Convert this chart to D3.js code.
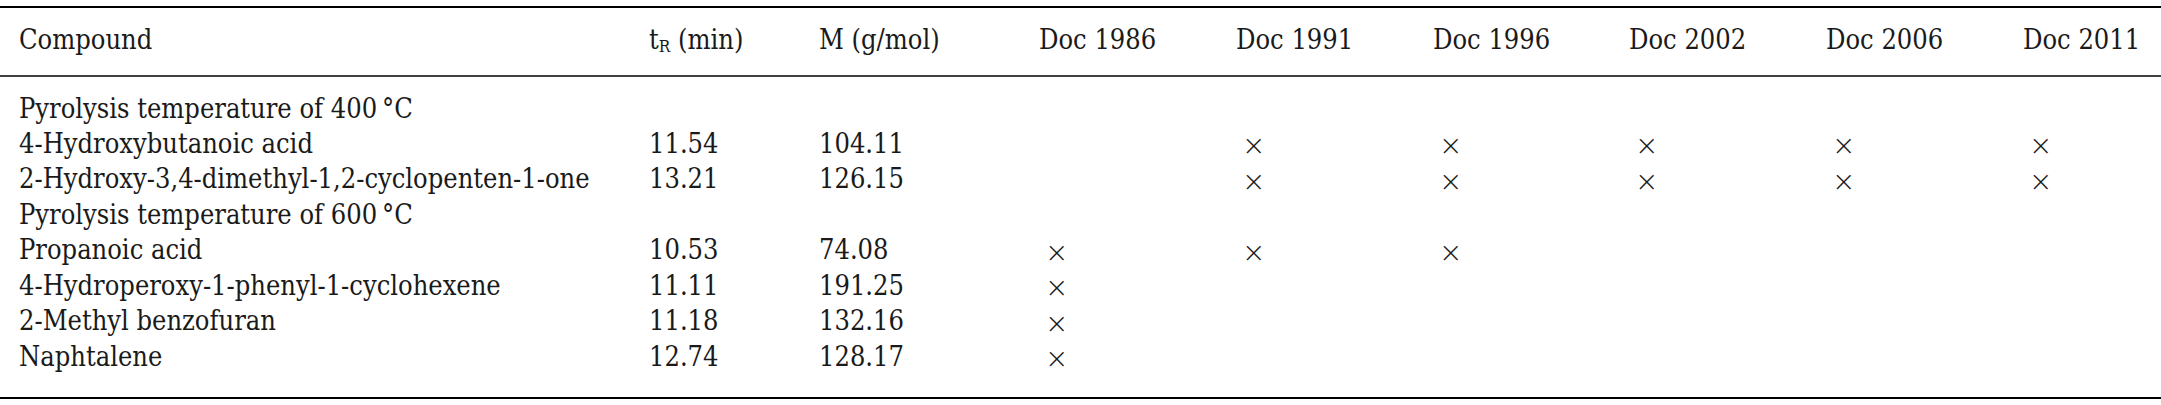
<!DOCTYPE html><html><head><meta charset="utf-8">
<script src="https://cdn.jsdelivr.net/npm/d3@7"></script>
<style>body{margin:0;background:#fff}text{font-family:"DejaVu Serif Condensed","DejaVu Serif",serif;font-size:27px;fill:#1a1a1a}</style></head><body>
<script>
const columns=["Compound","tR","M (g/mol)","Doc 1986","Doc 1991","Doc 1996","Doc 2002","Doc 2006","Doc 2011"];
const colX=[19,649,819,1039,1236,1433,1629,1826,2023];
const compounds=["Pyrolysis temperature of 400\u2009°C","4-Hydroxybutanoic acid","2-Hydroxy-3,4-dimethyl-1,2-cyclopenten-1-one","Pyrolysis temperature of 600\u2009°C","Propanoic acid","4-Hydroperoxy-1-phenyl-1-cyclohexene","2-Methyl benzofuran","Naphtalene"];
const tR=["","11.54","13.21","","10.53","11.11","11.18","12.74"];
const mass=["","104.11","126.15","","74.08","191.25","132.16","128.17"];
const presence=[[0,0,0,0,0,0],[0,1,1,1,1,1],[0,1,1,1,1,1],[0,0,0,0,0,0],[1,1,1,0,0,0],[1,0,0,0,0,0],[1,0,0,0,0,0],[1,0,0,0,0,0]];
const W=2161,H=405;
const svg=d3.select("body").append("svg").attr("width",W).attr("height",H);
const y=d3.scalePoint().domain(d3.range(compounds.length)).range([110,358]);
const hy=41;
[7,76,398].forEach((v,i)=>svg.append("line").attr("x1",0).attr("x2",W).attr("y1",v).attr("y2",v).attr("stroke","#000").attr("stroke-width",i==1?1.5:2));
columns.forEach((c,i)=>{
 const t=svg.append("text").attr("x",colX[i]).attr("y",hy).attr("dominant-baseline","middle");
 if(c==="tR"){t.append("tspan").text("t");t.append("tspan").attr("font-size","17px").attr("dy",6).text("R");t.append("tspan").attr("dy",-6).text(" (min)");}
 else t.text(c);
});
compounds.forEach((c,r)=>{
 const yy=y(r);
 svg.append("text").attr("x",colX[0]).attr("y",yy).attr("dominant-baseline","middle").text(c);
 svg.append("text").attr("x",colX[1]).attr("y",yy).attr("dominant-baseline","middle").text(tR[r]);
 svg.append("text").attr("x",colX[2]).attr("y",yy).attr("dominant-baseline","middle").text(mass[r]);
 presence[r].forEach((p,j)=>{ if(p) svg.append("text").attr("x",colX[3+j]+6).attr("y",yy+2).attr("dominant-baseline","middle").style("font-family","DejaVu Sans").style("font-weight","200").style("font-size","28px").text("\u00d7");});
});
</script></body></html>
